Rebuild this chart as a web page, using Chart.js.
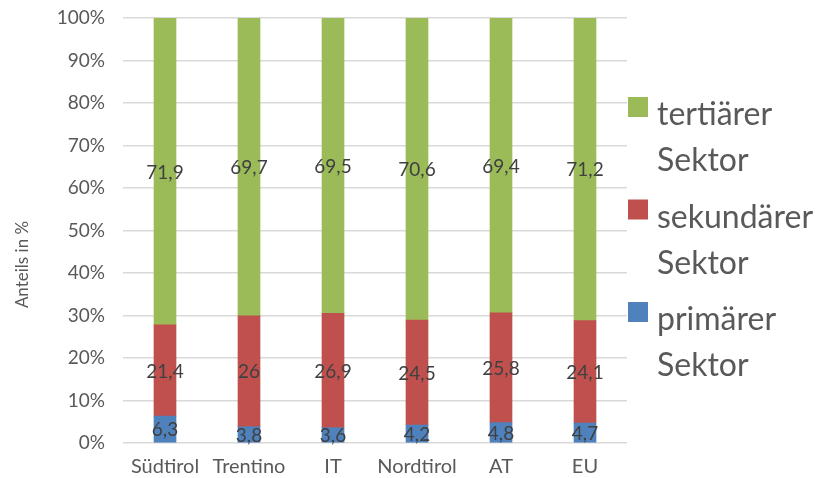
<!DOCTYPE html>
<html>
<head>
<meta charset="utf-8">
<script src="https://cdn.jsdelivr.net/npm/chart.js@4/dist/chart.umd.min.js"></script>
<style>
  html, body { margin: 0; padding: 0; background: #fff; }
  #wrap { width: 816px; height: 478px; }
</style>
</head>
<body>
<div id="wrap"><canvas id="grafico"></canvas></div>
<script>
const regionen = ["Südtirol", "Trentino", "IT", "Nordtirol", "AT", "EU"];
const primaer = [6.3, 3.8, 3.6, 4.2, 4.8, 4.7];
const sekundaer = [21.4, 26, 26.9, 24.5, 25.8, 24.1];
const tertiaer = [71.9, 69.7, 69.5, 70.6, 69.4, 71.2];
const yTicks = [0, 10, 20, 30, 40, 50, 60, 70, 80, 90, 100];

// 100%-Stapel: jeden Wert auf die Summe der Region beziehen
const summe = regionen.map((r, i) => primaer[i] + sekundaer[i] + tertiaer[i]);
const anteil = werte => werte.map((v, i) => v / summe[i] * 100);

const grau = '#595959';

// Werte mittig in die Balkensegmente schreiben
const wertLabels = {
    id: 'wertLabels',
    afterDatasetsDraw(chart) {
        const ctx = chart.ctx;
        ctx.save();
        ctx.font = '19px Lato';
        ctx.fillStyle = '#404040';
        ctx.textAlign = 'center';
        ctx.textBaseline = 'middle';
        chart.data.datasets.forEach((ds, d) => {
            chart.getDatasetMeta(d).data.forEach((bar, i) => {
                const p = bar.getCenterPoint();
                ctx.fillText(String(ds.roh[i]).replace('.', ','), p.x, p.y + 1);
            });
        });
        ctx.restore();
    }
};

// Legende rechts, zweizeilig wie im Original
const legende = {
    id: 'legende',
    afterDraw(chart) {
        const ctx = chart.ctx;
        const x0 = chart.chartArea.right + 1;
        ctx.save();
        ctx.font = '32px Lato';
        ctx.textAlign = 'left';
        ctx.textBaseline = 'alphabetic';
        chart.data.datasets.slice().reverse().forEach((ds, k) => {
            const oben = 97 + k * 102.5;
            ctx.fillStyle = ds.backgroundColor;
            ctx.fillRect(x0, oben, 20, 20);
            ctx.fillStyle = grau;
            ds.label.forEach((zeile, z) => {
                ctx.fillText(zeile, x0 + 29, oben + 28 + z * 46);
            });
        });
        ctx.restore();
    }
};

const grafico = document.getElementById('grafico');
new Chart(grafico, {
    type: 'bar',
    data: {
        labels: regionen,
        datasets: [
            { label: ['primärer', 'Sektor'], roh: primaer, data: anteil(primaer), backgroundColor: '#4F81BD' },
            { label: ['sekundärer', 'Sektor'], roh: sekundaer, data: anteil(sekundaer), backgroundColor: '#C0504D' },
            { label: ['tertiärer', 'Sektor'], roh: tertiaer, data: anteil(tertiaer), backgroundColor: '#9BBB59' }
        ]
    },
    plugins: [wertLabels, legende],
    options: {
        responsive: true,
        maintainAspectRatio: false,
        animation: false,
        barThickness: 22,
        layout: { padding: { top: 18, right: 189, left: 0, bottom: 0 } },
        plugins: {
            tooltip: { enabled: false },
            legend: { display: false }
        },
        scales: {
            x: {
                stacked: true,
                grid: { display: false, drawTicks: false },
                border: { display: false },
                ticks: { color: grau, font: { family: 'Lato', size: 20 }, padding: 12, maxRotation: 0, minRotation: 0, autoSkip: false },
                afterFit: s => { s.height = 35; }
            },
            y: {
                stacked: true,
                min: 0,
                max: 100,
                afterBuildTicks: s => { s.ticks = yTicks.map(v => ({ value: v })); },
                ticks: { color: grau, font: { family: 'Lato', size: 19 }, padding: 0, callback: v => v + '%' },
                grid: { color: '#D9D9D9', lineWidth: 1.5, drawTicks: true, tickLength: 18, tickColor: 'rgba(0,0,0,0)' },
                border: { display: false },
                title: {
                    display: true,
                    text: 'Anteils in %\u2002\u2002\u2002\u2002\u2002\u2002\u2002\u2002',
                    color: grau,
                    font: { family: 'Lato', size: 17 },
                    padding: { top: 12, bottom: 0 }
                },
                afterFit: s => { s.width = 123; }
            }
        }
    }
});
</script>
</body>
</html>
